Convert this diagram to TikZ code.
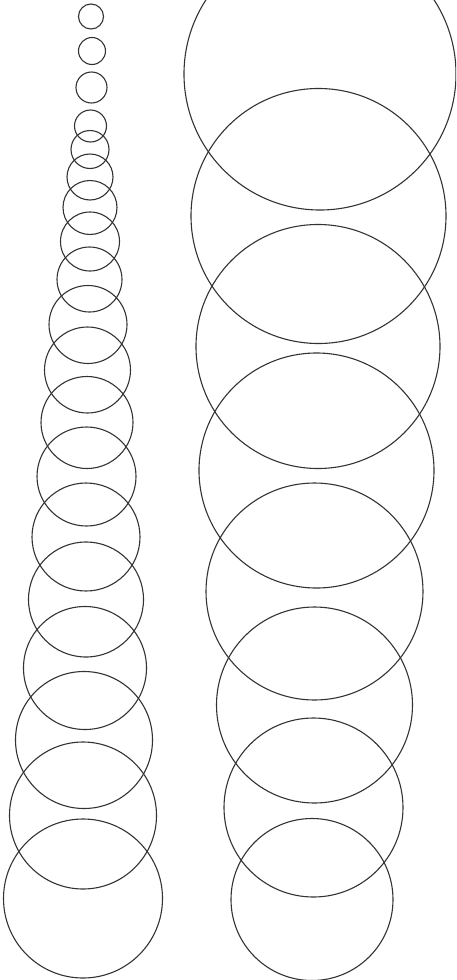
\documentclass[tikz,border=0pt]{standalone}
\definecolor{cink}{HTML}{333333}
\tikzset{
  every picture/.style={line width=1.1pt},
  ring/.style={draw=cink, fill=none},
}
\begin{document}
\begin{tikzpicture}[x=1pt, y=-1pt]
  \useasboundingbox (0,0) rectangle (456,980);
  \clip (0,0) rectangle (456,980);
  % left column: small rings growing downwards
  \foreach \cx/\cy/\r in {91/16.5/12.5, 92/51/13.5, 91.5/87.5/15.5, 90.5/126/16,
      90/149.5/19, 90/177/23, 90/207.5/27, 90/241.5/29.5, 89.5/279.5/32.5,
      88/324.5/39, 87.5/370/43, 87/422.5/46, 86.5/476.5/49.5, 86/537/54,
      86/599.5/57.5, 85/668/61.5, 84/740/68.5, 83/815.5/73.5, 83/898.5/79.5}
    \draw[ring] (\cx,\cy) circle[radius=\r pt];
  % right column: large rings
  \foreach \cx/\cy/\r in {320/74/136, 318.5/216/127.5, 318/346.5/122,
      316.5/470.5/117.5, 314.5/591.5/108.5, 314.5/705/98,
      313.5/807.5/89.5, 312/899.5/81}
    \draw[ring] (\cx,\cy) circle[radius=\r pt];
\end{tikzpicture}
\end{document}
